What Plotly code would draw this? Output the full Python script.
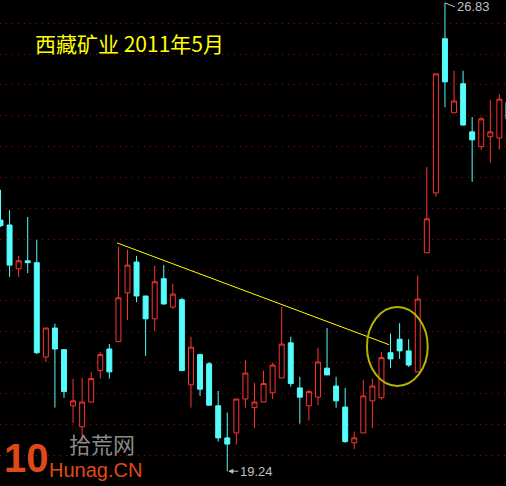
import plotly.graph_objects as go

# ---- data ----
idx = list(range(57))
opens = [23.31, 23.23, 22.52, 22.65, 22.62, 21.09, 21.56, 21.21, 20.30, 19.96,
         20.36, 20.87, 21.22, 21.34, 22.13, 22.63, 22.08, 21.71, 22.36, 21.90,
         22.02, 20.64, 21.13, 20.98, 20.30, 19.78, 19.86, 20.41, 20.27, 20.36,
         20.51, 20.75, 21.32, 20.59, 20.30, 20.44, 20.91, 20.62, 20.28, 19.70,
         19.86, 20.38, 20.43, 21.16, 21.38, 21.19, 20.85, 22.78, 23.75, 26.25,
         25.05, 25.52, 24.74, 24.50, 24.66, 24.64, 25.22]
highs = [23.80, 23.47, 22.73, 23.36, 22.99, 21.56, 21.63, 21.21, 20.74, 20.75,
         20.85, 21.17, 21.30, 22.88, 22.83, 22.73, 22.08, 22.57, 22.58, 22.28,
         22.05, 21.42, 21.14, 21.01, 20.54, 20.19, 20.41, 21.04, 20.67, 20.87,
         21.00, 21.90, 21.42, 20.77, 20.56, 21.24, 21.56, 20.77, 20.59, 19.88,
         20.72, 20.74, 21.17, 21.47, 21.64, 21.38, 22.41, 24.17, 25.68, 26.83,
         25.73, 25.73, 24.98, 24.98, 25.26, 25.35, 25.30]
lows = [23.20, 22.39, 22.39, 22.45, 21.14, 21.01, 20.27, 20.43, 20.02, 19.72,
        20.36, 20.74, 20.74, 21.34, 21.69, 21.98, 21.11, 21.51, 21.94, 21.87,
        20.87, 20.27, 20.46, 20.31, 19.72, 19.24, 19.67, 20.27, 19.94, 20.36,
        20.41, 20.75, 20.61, 20.01, 20.06, 20.31, 20.80, 20.27, 19.70, 19.60,
        19.86, 19.94, 20.40, 20.91, 21.06, 20.93, 20.85, 22.78, 23.69, 25.14,
        25.05, 24.84, 23.93, 24.45, 24.24, 24.45, 24.90]
closes = [23.22, 22.58, 22.65, 22.62, 21.16, 21.56, 21.22, 20.53, 20.38, 20.36,
          20.74, 21.13, 20.85, 22.05, 22.58, 22.08, 21.71, 22.31, 21.95, 22.11,
          20.87, 21.25, 20.57, 20.31, 19.78, 19.68, 20.41, 20.83, 20.36, 20.66,
          20.96, 21.30, 20.66, 20.44, 20.53, 21.01, 20.80, 20.38, 19.72, 19.78,
          20.46, 20.62, 21.08, 21.06, 21.19, 20.96, 22.03, 23.33, 25.68, 25.55,
          25.24, 24.85, 24.61, 24.95, 24.74, 25.27, 24.95]

grid_levels = [19.5 + 0.5 * k for k in range(15)]
title_text = "西藏矿业 2011年5月"
high_label = "26.83"
low_label = "19.24"
high_idx, high_val = 49, 26.83
low_idx, low_val = 25, 19.24
trend_x = [12.85, 42.85]
trend_y = [22.94, 21.29]
circle_x = [40.4, 47.1]
circle_y = [20.62, 21.90]

UP = "#ff3232"
DOWN = "#54fcfc"

fig = go.Figure()
fig.add_trace(go.Candlestick(
    x=idx, open=opens, high=highs, low=lows, close=closes,
    increasing=dict(line=dict(color=UP, width=1), fillcolor="#000000"),
    decreasing=dict(line=dict(color=DOWN, width=1), fillcolor=DOWN),
    whiskerwidth=0, hoverinfo="skip", showlegend=False,
))

# trend line
fig.add_trace(go.Scatter(x=trend_x, y=trend_y, mode="lines",
                         line=dict(color="#ffff00", width=1),
                         hoverinfo="skip", showlegend=False))

fig.add_shape(type="circle", xref="x", yref="y",
              x0=circle_x[0], x1=circle_x[1], y0=circle_y[0], y1=circle_y[1],
              line=dict(color="#b4b400", width=2))

fig.add_annotation(xref="paper", yref="paper", x=33 / 506, y=1 - 43 / 486,
                   xanchor="left", yanchor="middle", text=title_text,
                   showarrow=False,
                   font=dict(family="Noto Sans CJK SC", size=21, color="#ffff00"))

fig.add_annotation(x=high_idx, y=high_val, xref="x", yref="y",
                   text=high_label, showarrow=True, ax=10, ay=4,
                   xanchor="left", arrowhead=0, arrowwidth=1,
                   arrowcolor="#c0c0c0", standoff=0,
                   font=dict(family="Liberation Sans", size=13, color="#c0c0c0"))
fig.add_annotation(x=low_idx, y=low_val, xref="x", yref="y",
                   text=low_label, showarrow=True, ax=11, ay=0,
                   xanchor="left", arrowhead=2, arrowsize=1, arrowwidth=1,
                   arrowcolor="#c0c0c0", standoff=1,
                   font=dict(family="Liberation Sans", size=13, color="#c0c0c0"))

# watermark
fig.add_annotation(xref="paper", yref="paper", x=2 / 506, y=1 - 458 / 486,
                   xanchor="left", yanchor="middle", text="<b>10</b>",
                   showarrow=False,
                   font=dict(family="Liberation Sans", size=40, color="#e04818"))
fig.add_annotation(xref="paper", yref="paper", x=67 / 506, y=1 - 443 / 486,
                   xanchor="left", yanchor="middle", text="拾荒网",
                   showarrow=False,
                   font=dict(family="Noto Sans CJK SC", size=22, color="#8a8a8a"))
fig.add_annotation(xref="paper", yref="paper", x=47 / 506, y=1 - 470 / 486,
                   xanchor="left", yanchor="middle", text="Hunag.CN",
                   showarrow=False,
                   font=dict(family="Liberation Sans", size=20, color="#e04818"))

fig.update_layout(
    width=506, height=486,
    margin=dict(l=0, r=0, t=0, b=0, pad=0),
    paper_bgcolor="#000000", plot_bgcolor="#000000",
    boxgap=0.22,
    xaxis=dict(range=[-0.055, 55.73], showgrid=False, zeroline=False,
               showticklabels=False, ticks="", rangeslider=dict(visible=False),
               fixedrange=True),
    yaxis=dict(range=[19.0, 26.877], tickmode="array", tickvals=grid_levels,
               showgrid=True, gridcolor="#b00000", griddash="1px,5px",
               gridwidth=1, zeroline=False, showticklabels=False, ticks="",
               fixedrange=True),
)

fig.write_html("out.html", config={"displayModeBar": False},
               post_script="document.body.style.margin='0';")
